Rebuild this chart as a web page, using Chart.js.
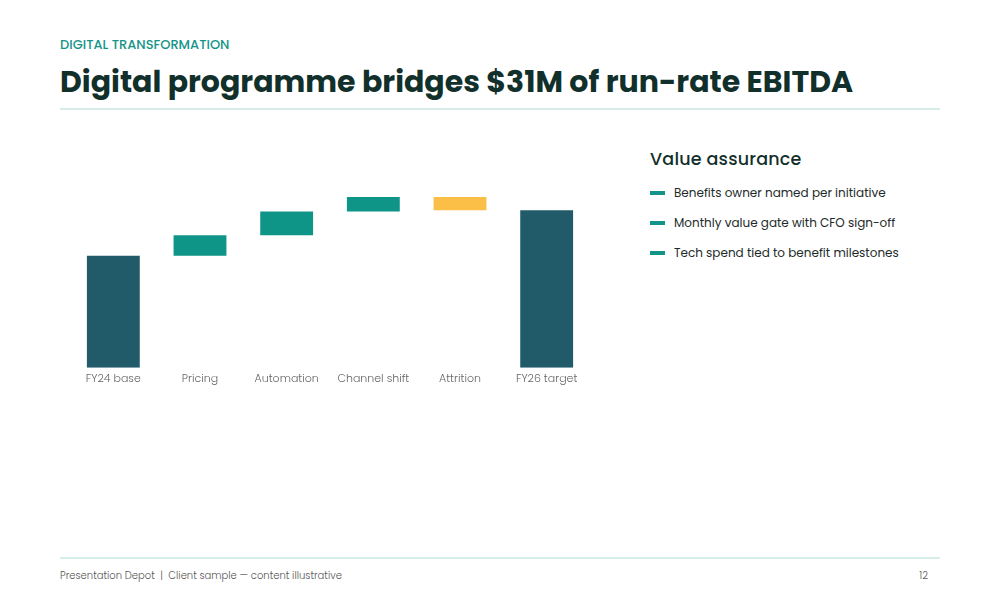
<!DOCTYPE html>
<html>
<head>
<meta charset="utf-8">
<script src="https://cdn.jsdelivr.net/npm/chart.js@4.4.1/dist/chart.umd.min.js"></script>
<style>
  html, body { margin: 0; padding: 0; background: #ffffff; }
  body { width: 1000px; height: 600px; position: relative; overflow: hidden;
         font-family: "Poppins", "Inter", "Noto Sans", sans-serif; }
  .kicker { position: absolute; left: 60px; top: 35px; font-size: 13px; font-weight: 500;
            color: #149488; letter-spacing: 0; }
  .title { position: absolute; left: 60px; top: 59px; font-size: 30px; font-weight: 700;
           color: #12302b; letter-spacing: 0; white-space: nowrap; }
  .rule { position: absolute; left: 60px; width: 880px; height: 2px; background: #d6ede9; }
  .chartbox { position: absolute; left: 60px; top: 135px; width: 540px; height: 256px; }
  .panel { position: absolute; left: 650px; top: 146px; width: 300px; }
  .panel h3 { margin: 0 0 13px 0; font-size: 17.5px; font-weight: 500; color: #12302b; letter-spacing: 0.2px; }
  .item { position: relative; height: 30px; font-size: 12px; color: #1d2b28; padding-left: 24px; line-height: 16px; }
  .item::before { content: ""; position: absolute; left: 0; top: 6px; width: 15px; height: 4px; background: #139488; }
  .footer { position: absolute; left: 60px; top: 568px; font-size: 10px; font-weight: 300; color: #555; }
  .page { position: absolute; right: 72px; top: 568px; font-size: 10px; font-weight: 300; color: #555; }
</style>
</head>
<body>
<div class="kicker">DIGITAL TRANSFORMATION</div>
<div class="title">Digital programme bridges $31M of run-rate EBITDA</div>
<div class="rule" style="top:108px"></div>
<div class="chartbox"><canvas id="c"></canvas></div>
<div class="panel">
  <h3>Value assurance</h3>
  <div class="item">Benefits owner named per initiative</div>
  <div class="item">Monthly value gate with CFO sign-off</div>
  <div class="item">Tech spend tied to benefit milestones</div>
</div>
<div class="rule" style="top:557px"></div>
<div class="footer">Presentation Depot &nbsp;|&nbsp; Client sample — content illustrative</div>
<div class="page">12</div>
<script>
const categories = ["FY24 base", "Pricing", "Automation", "Channel shift", "Attrition", "FY26 target"];
const kinds      = ["total", "delta", "delta", "delta", "delta", "total"];
const values     = [76, 14, 16, 10, -9, 107];

const COLORS = { total: "#215b69", up: "#0f9488", down: "#fbbf47" };

// build floating bars from the bridge values
let running = 0;
const bars = [], colors = [];
values.forEach((v, i) => {
  if (kinds[i] === "total") {
    bars.push([0, v]); running = v; colors.push(COLORS.total);
  } else {
    bars.push([running, running + v]); running += v;
    colors.push(v >= 0 ? COLORS.up : COLORS.down);
  }
});

new Chart(document.getElementById("c"), {
  type: "bar",
  data: { labels: categories,
          datasets: [{ data: bars, backgroundColor: colors, borderWidth: 0,
                       barPercentage: 0.61, categoryPercentage: 1.0 }] },
  options: {
    responsive: true, maintainAspectRatio: false, animation: false,
    layout: { padding: { left: 10, right: 10, top: 0, bottom: 0 } },
    plugins: { legend: { display: false }, tooltip: { enabled: false } },
    scales: {
      x: { grid: { display: false, drawTicks: false }, border: { display: false },
           ticks: { color: "#666", font: { family: "Poppins, Inter, Noto Sans, sans-serif", size: 11, weight: 300 }, padding: 5 } },
      y: { display: false, min: 0, max: 158 }
    }
  }
});
</script>
</body>
</html>
